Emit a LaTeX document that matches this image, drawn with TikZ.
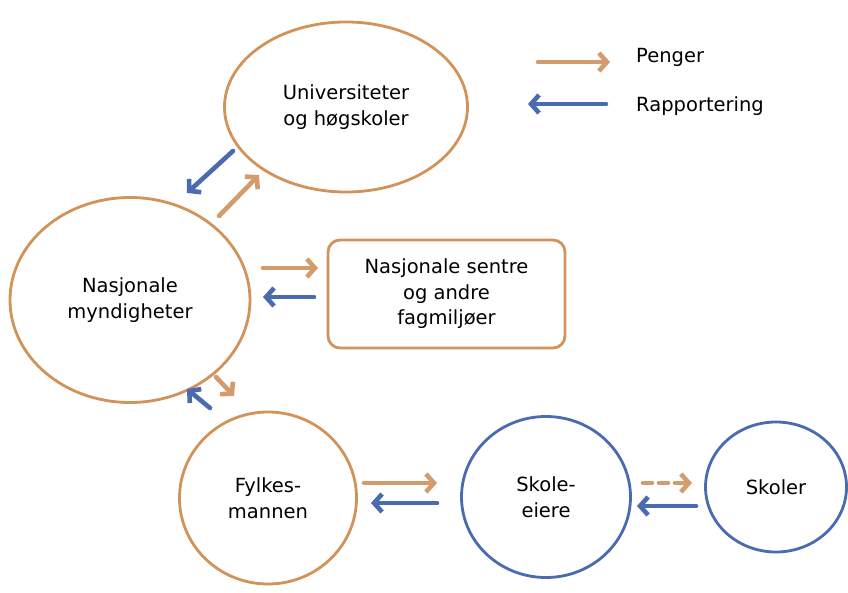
\documentclass[tikz,border=0pt]{standalone}
\usepackage{fontspec}
\setmainfont{DejaVu Sans}
\usetikzlibrary{shapes.geometric,arrows.meta}
\definecolor{org}{HTML}{D2935A}
\definecolor{orgA}{HTML}{D49C6C}
\definecolor{blu}{HTML}{4B6BB0}
\begin{document}
\begin{tikzpicture}[x=1pt,y=-1pt,
  font=\fontsize{19.5}{25.5}\selectfont,
  oell/.style={ellipse, draw=org, line width=2.8pt, inner sep=0pt, align=center},
  bell/.style={ellipse, draw=blu, line width=2.8pt, inner sep=0pt, align=center},
  pen/.style={draw=orgA, line width=4.6pt, line cap=round, -{Straight Barb[length=8pt,width=18pt]}},
  rap/.style={draw=blu, line width=4.6pt, line cap=round, -{Straight Barb[length=8pt,width=18pt]}},
  lbl/.style={anchor=west, inner sep=0pt}
]
\useasboundingbox (0,0) rectangle (848,593);
\fill[white] (0,0) rectangle (848,593);

\node[oell, minimum width=243pt, minimum height=170pt] (uni) at (346,107) {Universiteter\\og høgskoler};
\node[oell, minimum width=240pt, minimum height=205pt] (nm) at (130,300) {Nasjonale\\myndigheter};
\node[draw=org, line width=2.8pt, rounded corners=12pt, minimum width=237pt, minimum height=108pt, align=center, inner sep=0pt] (sen) at (446.5,294) {Nasjonale sentre\\og andre\\fagmiljøer};
\node[oell, minimum width=177pt, minimum height=172pt] (fm) at (268,498) {Fylkes-\\mannen};
\node[bell, minimum width=169pt, minimum height=161pt] (se) at (546,497) {Skole-\\eiere};
\node[bell, minimum width=141pt, minimum height=130pt] (sk) at (776,487) {Skoler};

% legend
\coordinate (lp1) at (538,62); \coordinate (lp2) at (610,62);
\coordinate (lr1) at (606,104); \coordinate (lr2) at (528,104);
\draw[pen] (lp1) -- (lp2);
\draw[rap] (lr1) -- (lr2);
\node[lbl] (lpen) at (636,57) {Penger};
\node[lbl] (lrap) at (636,106) {Rapportering};

% uni <-> nm
\coordinate (a1) at (233,151); \coordinate (a2) at (187,193);
\draw[rap] (a1) -- (a2);
\coordinate (b1) at (219,216); \coordinate (b2) at (259,175);
\draw[pen] (b1) -- (b2);

% nm <-> sentre
\coordinate (c1) at (263,268); \coordinate (c2) at (318,268);
\draw[pen] (c1) -- (c2);
\coordinate (d1) at (314,297); \coordinate (d2) at (263,297);
\draw[rap] (d1) -- (d2);

% nm <-> fm
\coordinate (e1) at (216,377); \coordinate (e2) at (234,396);
\draw[pen] (e1) -- (e2);
\coordinate (f1) at (210,408); \coordinate (f2) at (187,389);
\draw[rap] (f1) -- (f2);

% fm <-> se
\coordinate (g1) at (364,483); \coordinate (g2) at (437,483);
\draw[pen] (g1) -- (g2);
\coordinate (h1) at (437,503); \coordinate (h2) at (371,503);
\draw[rap] (h1) -- (h2);

% se <-> sk
\coordinate (i1) at (643,483); \coordinate (i2) at (692,483);
\draw[pen, dashed, dash pattern=on 9pt off 7pt] (i1) -- (i2);
\coordinate (j1) at (696,506); \coordinate (j2) at (637,506);
\draw[rap] (j1) -- (j2);
\end{tikzpicture}
\end{document}
